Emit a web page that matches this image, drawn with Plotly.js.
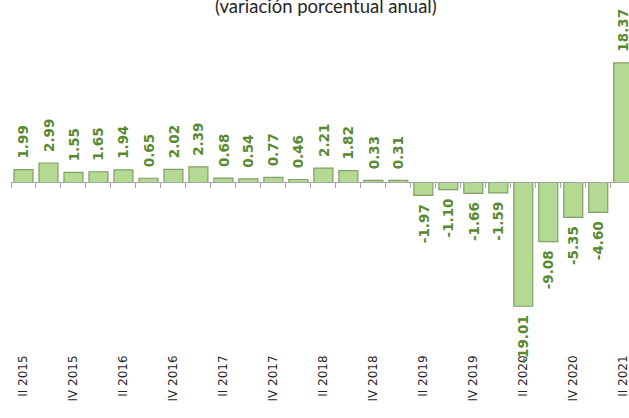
<!DOCTYPE html>
<html>
<head>
<meta charset="utf-8">
<script src="https://cdn.plot.ly/plotly-3.0.1.min.js"></script>
<style>html,body{margin:0;padding:0;background:#fff;}#chart{width:629px;height:418px;}</style>
</head>
<body>
<div id="chart"></div>
<script>
const quarters = ["II","III","IV","I","II","III","IV","I","II","III","IV","I","II","III","IV","I","II","III","IV","I","II","III","IV","I","II"];
const years = [2015,2015,2015,2016,2016,2016,2016,2017,2017,2017,2017,2018,2018,2018,2018,2019,2019,2019,2019,2020,2020,2020,2020,2021,2021];
const values = [1.99,2.99,1.55,1.65,1.94,0.65,2.02,2.39,0.68,0.54,0.77,0.46,2.21,1.82,0.33,0.31,-1.97,-1.10,-1.66,-1.59,-19.01,-9.08,-5.35,-4.60,18.37];
const titleText = "(variación porcentual anual)";

const categories = quarters.map((q, i) => q + " " + years[i]);
const tickText = categories.map((c, i) => (i % 2 === 0 ? c : ""));

const yMin = -26.04, yMax = 24.96;
const zeroPos = (0 - yMin) / (yMax - yMin);

const bars = {
  type: "bar",
  x: categories,
  y: values,
  width: 0.76,
  marker: { color: "#b3d993", line: { color: "#819f66", width: 1.2 } },
  hoverinfo: "skip",
  cliponaxis: true
};
const axisHelper = {
  type: "scatter",
  mode: "lines",
  x: categories,
  y: values.map(() => 0),
  xaxis: "x2",
  line: { width: 0, color: "rgba(0,0,0,0)" },
  hoverinfo: "skip",
  showlegend: false
};

const annotations = values.map((v, i) => ({
  x: categories[i],
  y: v,
  xref: "x",
  yref: "y",
  text: v.toFixed(2),
  textangle: -90,
  showarrow: false,
  yanchor: v >= 0 ? "bottom" : "top",
  xanchor: "center",
  yshift: v >= 0 ? 9 : -7,
  font: { family: "DejaVu Sans", size: 13.5, color: "#598a30", weight: "bold" }
}));

const layout = {
  width: 629,
  height: 418,
  margin: { l: 11, r: 0, t: 20, b: 66 },
  paper_bgcolor: "#ffffff",
  plot_bgcolor: "#ffffff",
  showlegend: false,
  title: {
    text: titleText,
    x: 0.518, xref: "container", xanchor: "center",
    y: 0.985, yref: "container", yanchor: "middle",
    font: { family: "Lato", size: 18.5, color: "#262626" }
  },
  xaxis: {
    type: "category",
    range: [-0.5, 24.23],
    tickmode: "array",
    tickvals: categories,
    ticktext: tickText,
    tickangle: -90,
    ticks: "",
    showline: false,
    showgrid: false,
    zeroline: false,
    tickfont: { family: "DejaVu Sans", size: 12, color: "#262626" }
  },
  xaxis2: {
    type: "category",
    overlaying: "x",
    matches: "x",
    anchor: "free",
    position: zeroPos,
    side: "bottom",
    showticklabels: false,
    showline: true,
    linecolor: "#a6a6a6",
    linewidth: 1,
    ticks: "outside",
    tickson: "boundaries",
    ticklen: 5,
    tickcolor: "#a6a6a6",
    showgrid: false,
    zeroline: false
  },
  yaxis: {
    range: [yMin, yMax],
    visible: false,
    showgrid: false,
    zeroline: false
  },
  annotations: annotations
};

Plotly.newPlot("chart", [bars, axisHelper], layout, { staticPlot: true, displayModeBar: false });
</script>
</body>
</html>
